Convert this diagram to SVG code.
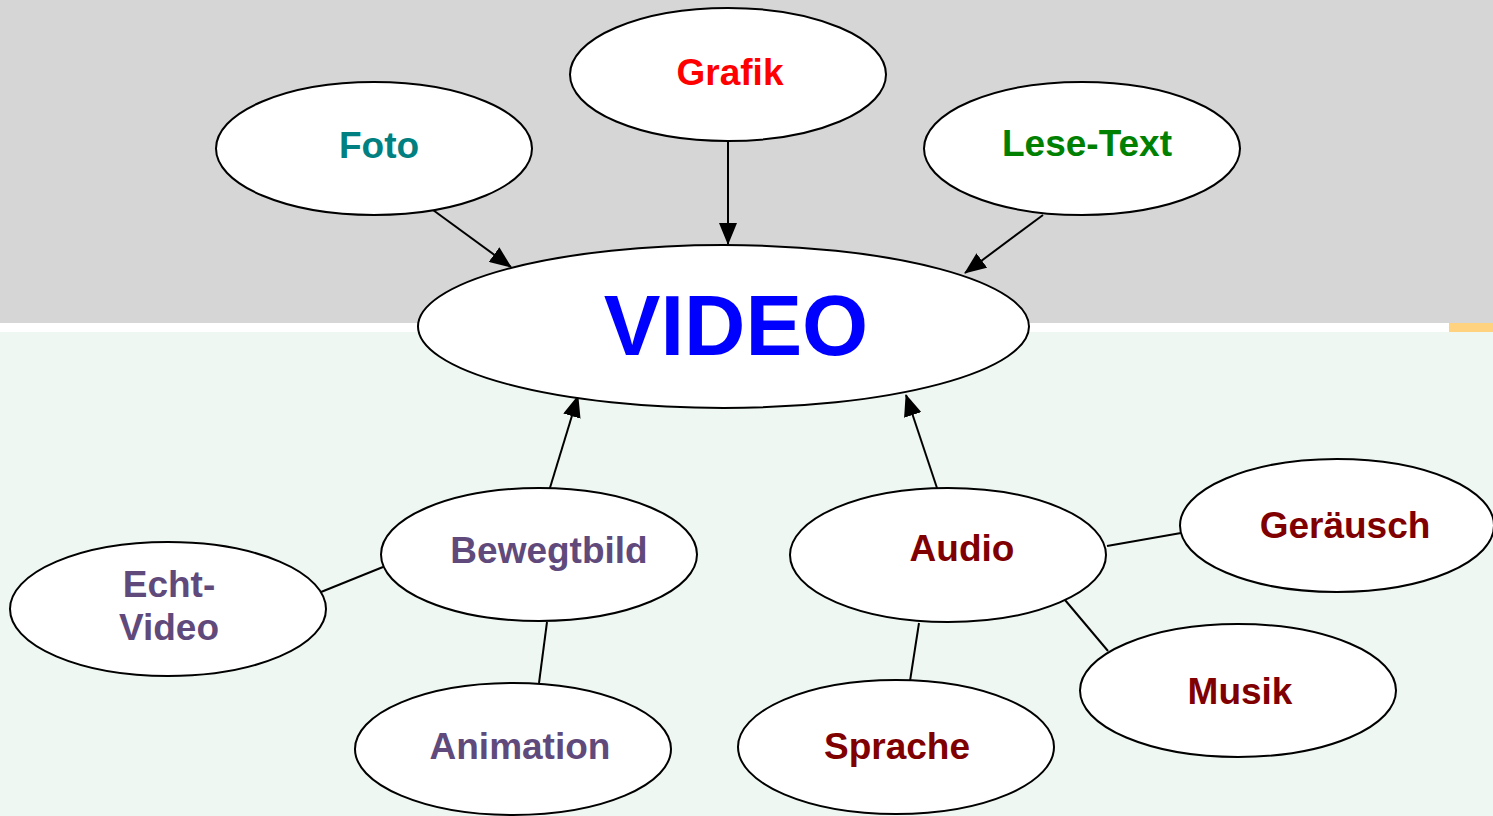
<svg xmlns="http://www.w3.org/2000/svg" width="1493" height="816" viewBox="0 0 1493 816">
<style>
.n{fill:#fff;stroke:#000;stroke-width:2}
.t{font-family:"Liberation Sans",Arial,sans-serif;font-weight:bold;font-size:37px;text-anchor:middle}
.c{stroke:#000;stroke-width:2;fill:none}
</style>
<defs>
<marker id="ah" markerUnits="userSpaceOnUse" markerWidth="22" markerHeight="18" refX="21" refY="9" orient="auto">
<path d="M0,0 L22,9 L0,18 Z" fill="#000"/>
</marker>
</defs>
<rect x="0" y="0" width="1493" height="323" fill="#d6d6d6"/>
<rect x="0" y="323" width="1493" height="9" fill="#fff"/>
<rect x="1449" y="323" width="44" height="9" fill="#ffd27f"/>
<rect x="0" y="332" width="1493" height="484" fill="#eef7f2"/>
<g id="connectors">
<line class="c" x1="433" y1="210" x2="511" y2="267" marker-end="url(#ah)"/>
<line class="c" x1="728" y1="141" x2="728" y2="244" marker-end="url(#ah)"/>
<line class="c" x1="1043" y1="215" x2="965" y2="273" marker-end="url(#ah)"/>
<line class="c" x1="549" y1="491" x2="578" y2="396" marker-end="url(#ah)"/>
<line class="c" x1="937" y1="488" x2="906" y2="395" marker-end="url(#ah)"/>
<line class="c" x1="321" y1="592" x2="383" y2="567"/>
<line class="c" x1="547" y1="622" x2="539" y2="683"/>
<line class="c" x1="1107" y1="546" x2="1181" y2="533"/>
<line class="c" x1="1065" y1="600" x2="1108" y2="651"/>
<line class="c" x1="919" y1="623" x2="910" y2="681"/>
</g>
<g id="foto"><ellipse class="n" cx="374" cy="148.5" rx="158" ry="66.5"/><text class="t" x="379" y="158" fill="#008080">Foto</text></g>
<g id="grafik"><ellipse class="n" cx="728" cy="74.5" rx="158" ry="66.5"/><text class="t" x="730" y="85" fill="#ff0000">Grafik</text></g>
<g id="lesetext"><ellipse class="n" cx="1082" cy="148.5" rx="158" ry="66.5"/><text class="t" x="1087" y="156" fill="#008000">Lese-Text</text></g>
<g id="video"><ellipse class="n" cx="723.5" cy="326.5" rx="305.5" ry="81.5"/><text class="t" x="736" y="355" fill="#0000ff" style="font-size:85px">VIDEO</text></g>
<g id="bewegtbild"><ellipse class="n" cx="539" cy="554.5" rx="158" ry="66.5"/><text class="t" x="549" y="563" fill="#604a7b">Bewegtbild</text></g>
<g id="audio"><ellipse class="n" cx="948" cy="555" rx="158" ry="67"/><text class="t" x="962" y="561" fill="#800000">Audio</text></g>
<g id="geraeusch"><ellipse class="n" cx="1337" cy="525.5" rx="157" ry="66.5"/><text class="t" x="1345" y="538" fill="#800000">Geräusch</text></g>
<g id="echtvideo"><ellipse class="n" cx="168" cy="609" rx="158" ry="67"/><text class="t" x="169" y="597" fill="#604a7b">Echt-</text><text class="t" x="169" y="640" fill="#604a7b">Video</text></g>
<g id="animation"><ellipse class="n" cx="513" cy="749" rx="158" ry="66"/><text class="t" x="520" y="759" fill="#604a7b">Animation</text></g>
<g id="sprache"><ellipse class="n" cx="896" cy="747" rx="158" ry="67"/><text class="t" x="897" y="759" fill="#800000">Sprache</text></g>
<g id="musik"><ellipse class="n" cx="1238" cy="690.5" rx="158" ry="66.5"/><text class="t" x="1240" y="704" fill="#800000">Musik</text></g>
</svg>
